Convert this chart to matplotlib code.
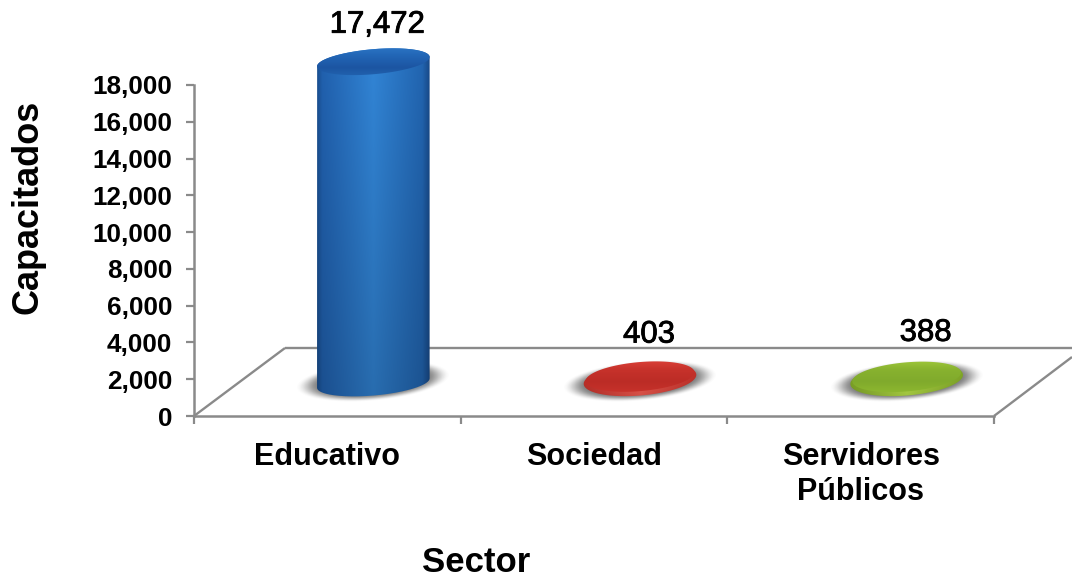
import numpy as np
import matplotlib
matplotlib.use("Agg")
import matplotlib.pyplot as plt
import matplotlib.patheffects as pe
from matplotlib.path import Path
from matplotlib.colors import LinearSegmentedColormap

categories = ["Educativo", "Sociedad", "Servidores\nPúblicos"]
values = [17472, 403, 388]
value_labels = ["17,472", "403", "388"]
y_ticks = list(range(0, 18001, 2000))
x_label = "Sector"
y_label = "Capacitados"

W, H = 1072, 577
L, R, B, T = 194, 994, 416, 85
plt.rcParams["font.family"] = ["Liberation Sans", "DejaVu Sans"]
GREY = "#8a8a8a"

fig = plt.figure(figsize=(W / 100, H / 100), dpi=100)
ax = fig.add_axes([L / W, 1 - B / H, (R - L) / W, (B - T) / H])
ax.set_xlim(0, 3)
ax.set_ylim(0, 18000)
ax.set_facecolor("none")

sx = 3 / (R - L)          # data x per pixel
sy = 18000 / (B - T)      # data y per pixel


def px(x, y):
    return (x - L) * sx, (B - y) * sy


# floor
for (a, b) in [((194, 416), (285, 348)), ((285, 348), (1072, 348)),
               ((994, 416), (1072, 357))]:
    p, q = px(*a), px(*b)
    ax.plot([p[0], q[0]], [p[1], q[1]], color=GREY, lw=1.7, clip_on=False,
            solid_capstyle="butt", zorder=1)

for s in ["top", "right"]:
    ax.spines[s].set_visible(False)
for s in ["left", "bottom"]:
    ax.spines[s].set_color(GREY)
    ax.spines[s].set_linewidth(1.8)

ax.set_yticks(y_ticks)
ax.set_yticklabels([f"{v:,}" for v in y_ticks], fontsize=18.8, fontweight="bold")
ax.tick_params(axis="y", length=5.5, width=1.6, color=GREY, pad=10)
ax.set_xticks([0, 1, 2, 3])
ax.set_xticklabels([])
ax.tick_params(axis="x", length=5.5, width=1.6, color=GREY)
ax.set_xticks([0.5, 1.5, 2.5], minor=True)
ax.set_xticklabels(categories, minor=True, fontsize=22, fontweight="bold",
                   linespacing=1.2)
ax.tick_params(axis="x", which="minor", length=0, pad=19)

RX, RY, TILT = 56.5, 12.5, np.deg2rad(5.0)
DEPTH = 46
BASE_PX = 383


def ellipse_pts(cx, cy, rx=RX, ry=RY, t0=0, t1=2 * np.pi, n=120):
    t = np.linspace(t0, t1, n)
    x = rx * np.cos(t)
    y = ry * np.sin(t)
    return (cx + x * np.cos(TILT) + y * np.sin(TILT),
            cy - x * np.sin(TILT) + y * np.cos(TILT))


def to_data(xp, yp):
    return (np.asarray(xp) - L) * sx, (B - np.asarray(yp)) * sy


def clip_image(arr, x0, x1, y0, y1, xs, ys, zorder=3):
    X, Y = to_data([x0, x1], [y1, y0])
    im = ax.imshow(arr, extent=[X[0], X[1], Y[0], Y[1]], origin="lower",
                   aspect="auto", zorder=zorder, interpolation="bilinear")
    im.set_clip_box(fig.bbox)
    if xs is not None:
        dx, dy = to_data(xs, ys)
        im.set_clip_path(Path(np.column_stack([dx, dy])), ax.transData)
    return im


def shadow(cx, cy):
    xx, yy = np.meshgrid(np.linspace(-95, 95, 240), np.linspace(-40, 40, 120))
    u = xx * np.cos(TILT) + yy * np.sin(TILT)
    v = -xx * np.sin(TILT) + yy * np.cos(TILT)
    d = np.sqrt((u / 78) ** 2 + (v / 20) ** 2)
    a = np.clip((1.0 - d) / 0.32, 0, 1)
    a = a * a * (3 - 2 * a) * 0.72
    rgba = np.zeros(xx.shape + (4,))
    rgba[..., :3] = 0.30
    rgba[..., 3] = a
    clip_image(rgba, cx - 95, cx + 95, cy - 40, cy + 40, None, None, zorder=2)


palettes = [
    dict(body=[(0, "#16457f"), (0.06, "#1f5ca6"), (0.5, "#2f7ecb"),
               (0.92, "#2060a8"), (1, "#143f78")],
         top=["#2f7ccb", "#2266b6", "#1c55a2", "#2468b4"]),
    dict(body=[(0, "#c23029"), (0.5, "#ee5a50"), (1, "#c23029")],
         top=["#e0453c", "#c7322b", "#bb2c26", "#c9332c"]),
    dict(body=[(0, "#7fa626"), (0.5, "#b4dc48"), (1, "#7fa626")],
         top=["#a6ce3e", "#88b22f", "#80aa2c", "#8fb930"]),
]

for i, (val, pal) in enumerate(zip(values, palettes)):
    cx = L + (i + 0.5) * (R - L) / 3 + DEPTH
    h = val / sy
    top_y = BASE_PX - h
    shadow(cx, BASE_PX - 2)

    if h < 2 * RY:
        # flat disc: smooth outline round both end faces
        xs, ys = ellipse_pts(cx, BASE_PX - h / 2, ry=RY + h / 2)
    else:
        bx, by = ellipse_pts(cx, BASE_PX, t0=0, t1=np.pi)
        tx, ty = ellipse_pts(cx, top_y, t0=np.pi, t1=2 * np.pi)
        xs = np.r_[bx, tx]
        ys = np.r_[by, ty]
    cm = LinearSegmentedColormap.from_list(f"b{i}", pal["body"])
    ny = 60
    grad = np.tile(np.linspace(0, 1, 200), (ny, 1))
    y0, y1 = top_y - RY - 8, BASE_PX + RY + 8
    rgba = cm(grad)
    fade = np.linspace(0.86, 1.06, ny)[:, None, None]
    rgba[..., :3] = np.clip(rgba[..., :3] * fade, 0, 1)
    clip_image(rgba, cx - RX - 2, cx + RX + 2, y0, y1, xs, ys)

    inset = 2 if h < 2 * RY else 0
    xs, ys = ellipse_pts(cx, top_y + inset / 2, rx=RX - inset, ry=RY + inset)
    cm = LinearSegmentedColormap.from_list(f"t{i}", pal["top"])
    xx, yy = np.meshgrid(np.linspace(-1.05, 1.05, 120), np.linspace(-1.05, 1.05, 60))
    clip_image(cm(np.clip(0.5 - yy * 0.5, 0, 1)),
               cx - RX - 3, cx + RX + 3, top_y - RY - 7, top_y + RY + 7, xs, ys, zorder=4)

label_dx = [4, 9, 19]
label_dy = [37, 41, 43]
for i, (val, lab) in enumerate(zip(values, value_labels)):
    cx_data = i + 0.5 + DEPTH * sx
    base_val = (B - BASE_PX) * sy + val
    ax.annotate(lab, (cx_data, base_val),
                xytext=(label_dx[i] * 0.72, label_dy[i] * 0.72),
                textcoords="offset points", ha="center", va="center",
                fontsize=22.4, color="black", annotation_clip=False, zorder=5,
                path_effects=[pe.withStroke(linewidth=0.6, foreground="black")])

fig.text(476 / W, 1 - 562 / H, x_label, fontsize=25, fontweight="bold",
         ha="center", va="center")
fig.text(28 / W, 1 - 207 / H, y_label, fontsize=26, fontweight="bold",
         rotation=90, ha="center", va="center")

fig.savefig("out.png", dpi=100, facecolor="white")
